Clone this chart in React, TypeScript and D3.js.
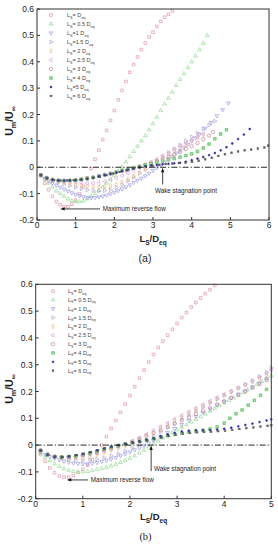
import React from "react";
import * as d3 from "d3";

type Pt = [number, number];

// ---- panel (a) data: Um/Uinf vs Ls/Deq ----
const aDeq: Pt[] = [[0.1,-0.03],[0.2,-0.06],[0.3,-0.085],[0.4,-0.11],[0.5,-0.13],[0.6,-0.142],[0.7,-0.149],[0.8,-0.15],[0.9,-0.14],[1.0,-0.125],[1.1,-0.1],[1.2,-0.073],[1.3,-0.04],[1.4,-0.005],[1.5,0.03],[1.6,0.065],[1.7,0.105],[1.8,0.14],[1.9,0.178],[2.0,0.215],[2.1,0.256],[2.2,0.291],[2.3,0.325],[2.4,0.36],[2.5,0.389],[2.6,0.418],[2.7,0.446],[2.8,0.471],[2.9,0.494],[3.0,0.512],[3.1,0.534],[3.2,0.553],[3.3,0.569],[3.4,0.58],[3.5,0.593]];
const a05: Pt[] = [[0.1,-0.03],[0.2,-0.045],[0.3,-0.06],[0.4,-0.075],[0.5,-0.09],[0.6,-0.1],[0.7,-0.11],[0.8,-0.12],[0.9,-0.127],[1.0,-0.13],[1.1,-0.13],[1.2,-0.128],[1.3,-0.12],[1.4,-0.11],[1.5,-0.1],[1.6,-0.088],[1.7,-0.075],[1.8,-0.06],[1.9,-0.045],[2.0,-0.03],[2.1,-0.015],[2.2,0.0],[2.3,0.02],[2.4,0.04],[2.5,0.06],[2.6,0.08],[2.7,0.1],[2.8,0.12],[2.9,0.142],[3.0,0.165],[3.1,0.19],[3.2,0.215],[3.3,0.24],[3.4,0.262],[3.5,0.285],[3.6,0.31],[3.7,0.333],[3.8,0.355],[3.9,0.378],[4.0,0.4],[4.1,0.422],[4.2,0.445],[4.3,0.47],[4.4,0.499]];
const a1: Pt[] = [[0.1,-0.03],[0.2,-0.042],[0.3,-0.052],[0.4,-0.06],[0.5,-0.068],[0.6,-0.076],[0.7,-0.083],[0.8,-0.09],[0.9,-0.097],[1.0,-0.103],[1.1,-0.108],[1.2,-0.112],[1.3,-0.115],[1.4,-0.116],[1.5,-0.115],[1.6,-0.113],[1.7,-0.11],[1.8,-0.106],[1.9,-0.101],[2.0,-0.095],[2.1,-0.089],[2.2,-0.082],[2.3,-0.075],[2.4,-0.067],[2.5,-0.058],[2.6,-0.05],[2.7,-0.042],[2.8,-0.033],[2.9,-0.023],[3.0,-0.012],[3.1,-0.002],[3.2,0.009],[3.3,0.02],[3.4,0.031],[3.5,0.042],[3.6,0.053],[3.7,0.064],[3.8,0.075],[3.9,0.087],[4.0,0.099],[4.1,0.111],[4.2,0.125],[4.35,0.148],[4.5,0.17],[4.65,0.195],[4.8,0.218],[4.95,0.243]];
const a15: Pt[] = [[0.1,-0.03],[0.25,-0.043],[0.4,-0.052],[0.55,-0.058],[0.7,-0.064],[0.85,-0.07],[1.0,-0.076],[1.15,-0.081],[1.3,-0.086],[1.45,-0.089],[1.6,-0.09],[1.75,-0.089],[1.9,-0.085],[2.05,-0.077],[2.2,-0.066],[2.35,-0.052],[2.5,-0.038],[2.65,-0.023],[2.8,-0.008],[2.95,0.008],[3.1,0.024],[3.25,0.04],[3.4,0.055],[3.55,0.07],[3.7,0.085],[3.85,0.1],[4.0,0.115],[4.15,0.13],[4.3,0.145],[4.45,0.16],[4.6,0.175]];
const a2: Pt[] = [[0.1,-0.03],[0.25,-0.042],[0.4,-0.049],[0.55,-0.053],[0.7,-0.057],[0.85,-0.061],[1.0,-0.065],[1.15,-0.069],[1.3,-0.072],[1.45,-0.074],[1.6,-0.075],[1.75,-0.074],[1.9,-0.071],[2.05,-0.065],[2.2,-0.056],[2.35,-0.045],[2.5,-0.033],[2.65,-0.02],[2.8,-0.007],[2.95,0.007],[3.1,0.021],[3.25,0.035],[3.4,0.048],[3.55,0.061],[3.7,0.074],[3.85,0.087],[4.0,0.1],[4.15,0.112],[4.3,0.124]];
const a25: Pt[] = [[0.1,-0.03],[0.25,-0.042],[0.4,-0.048],[0.55,-0.051],[0.7,-0.053],[0.85,-0.055],[1.0,-0.057],[1.15,-0.059],[1.3,-0.06],[1.45,-0.06],[1.6,-0.058],[1.75,-0.054],[1.9,-0.048],[2.05,-0.041],[2.2,-0.032],[2.35,-0.022],[2.5,-0.012],[2.65,-0.002],[2.8,0.009],[2.95,0.02],[3.1,0.032],[3.25,0.044],[3.4,0.056],[3.55,0.068],[3.7,0.08],[3.85,0.092],[4.0,0.104],[4.15,0.116],[4.3,0.128]];
const a3: Pt[] = [[0.1,-0.03],[0.25,-0.04],[0.4,-0.047],[0.55,-0.05],[0.7,-0.05],[0.85,-0.05],[1.0,-0.048],[1.15,-0.045],[1.3,-0.042],[1.45,-0.038],[1.6,-0.033],[1.75,-0.028],[1.9,-0.024],[2.05,-0.019],[2.2,-0.014],[2.35,-0.008],[2.5,-0.002],[2.65,0.004],[2.8,0.01],[2.95,0.017],[3.1,0.024],[3.25,0.031],[3.4,0.039],[3.55,0.048],[3.7,0.058],[3.85,0.069],[4.0,0.08],[4.15,0.092],[4.3,0.106],[4.45,0.12],[4.55,0.134]];
const a4: Pt[] = [[0.1,-0.03],[0.25,-0.04],[0.4,-0.047],[0.55,-0.05],[0.7,-0.051],[0.85,-0.05],[1.0,-0.049],[1.15,-0.046],[1.3,-0.043],[1.45,-0.039],[1.6,-0.034],[1.75,-0.029],[1.9,-0.024],[2.05,-0.019],[2.2,-0.013],[2.35,-0.008],[2.5,-0.003],[2.65,0.003],[2.8,0.008],[2.95,0.013],[3.1,0.018],[3.25,0.023],[3.4,0.028],[3.55,0.033],[3.7,0.038],[3.85,0.044],[4.0,0.051],[4.15,0.06],[4.3,0.073],[4.45,0.088],[4.6,0.108],[4.75,0.126],[4.9,0.142]];
const a5: Pt[] = [[0.1,-0.03],[0.25,-0.041],[0.4,-0.047],[0.55,-0.05],[0.7,-0.051],[0.85,-0.05],[1.0,-0.049],[1.15,-0.047],[1.3,-0.044],[1.45,-0.04],[1.6,-0.035],[1.75,-0.03],[1.9,-0.025],[2.05,-0.02],[2.2,-0.014],[2.35,-0.009],[2.5,-0.004],[2.65,0.0],[2.8,0.004],[2.95,0.007],[3.1,0.009],[3.25,0.011],[3.4,0.013],[3.55,0.015],[3.7,0.017],[3.85,0.021],[4.0,0.027],[4.15,0.033],[4.3,0.039],[4.45,0.046],[4.6,0.054],[4.75,0.064],[4.9,0.076],[5.05,0.09],[5.2,0.107],[5.35,0.124],[5.5,0.145]];
const a6: Pt[] = [[0.1,-0.03],[0.27,-0.042],[0.44,-0.048],[0.61,-0.05],[0.78,-0.05],[0.95,-0.049],[1.12,-0.047],[1.29,-0.044],[1.46,-0.04],[1.63,-0.035],[1.8,-0.03],[1.97,-0.024],[2.14,-0.018],[2.31,-0.012],[2.48,-0.006],[2.65,-0.001],[2.82,0.003],[2.99,0.006],[3.16,0.009],[3.33,0.012],[3.5,0.014],[3.67,0.016],[3.84,0.018],[4.01,0.021],[4.18,0.025],[4.35,0.03],[4.52,0.036],[4.69,0.043],[4.86,0.049],[5.03,0.055],[5.2,0.06],[5.37,0.064],[5.54,0.067],[5.71,0.071],[5.88,0.075],[5.98,0.082]];

// ---- panel (b) data ----
const bDeq: Pt[] = [[0.1,-0.035],[0.2,-0.06],[0.3,-0.085],[0.4,-0.103],[0.5,-0.115],[0.6,-0.12],[0.7,-0.12],[0.8,-0.113],[0.9,-0.102],[1.0,-0.09],[1.1,-0.075],[1.2,-0.055],[1.3,-0.03],[1.4,0.0],[1.5,0.032],[1.6,0.062],[1.7,0.092],[1.8,0.122],[1.9,0.153],[2.0,0.185],[2.1,0.218],[2.2,0.25],[2.3,0.28],[2.4,0.31],[2.5,0.338],[2.6,0.364],[2.7,0.388],[2.8,0.41],[2.9,0.432],[3.0,0.454],[3.1,0.476],[3.2,0.495],[3.3,0.515],[3.4,0.532],[3.5,0.549],[3.6,0.565],[3.7,0.58],[3.8,0.596]];
const b05: Pt[] = [[0.1,-0.03],[0.2,-0.045],[0.3,-0.058],[0.4,-0.07],[0.5,-0.08],[0.6,-0.088],[0.7,-0.094],[0.8,-0.098],[0.9,-0.1],[1.0,-0.1],[1.1,-0.098],[1.2,-0.095],[1.3,-0.091],[1.4,-0.087],[1.5,-0.083],[1.6,-0.078],[1.7,-0.072],[1.8,-0.065],[1.9,-0.057],[2.0,-0.049],[2.1,-0.04],[2.2,-0.03],[2.3,-0.019],[2.4,-0.007],[2.5,0.005],[2.6,0.016],[2.7,0.027],[2.8,0.037],[2.9,0.047],[3.0,0.057],[3.1,0.067],[3.2,0.076],[3.3,0.086],[3.4,0.096],[3.5,0.106],[3.6,0.116],[3.7,0.127],[3.8,0.137],[3.9,0.147],[4.0,0.157],[4.1,0.167],[4.2,0.176],[4.3,0.186],[4.4,0.196],[4.5,0.206],[4.6,0.216],[4.7,0.227],[4.8,0.237],[4.9,0.248],[5.0,0.258]];
const b1: Pt[] = [[0.1,-0.025],[0.2,-0.035],[0.3,-0.043],[0.4,-0.05],[0.5,-0.055],[0.6,-0.06],[0.7,-0.064],[0.8,-0.067],[0.9,-0.069],[1.0,-0.07],[1.1,-0.07],[1.2,-0.068],[1.3,-0.065],[1.4,-0.061],[1.5,-0.057],[1.6,-0.052],[1.7,-0.046],[1.8,-0.04],[1.9,-0.033],[2.0,-0.026],[2.1,-0.018],[2.2,-0.01],[2.3,-0.002],[2.4,0.007],[2.5,0.017],[2.65,0.032],[2.8,0.047],[2.95,0.062],[3.1,0.077],[3.25,0.092],[3.4,0.107],[3.55,0.121],[3.7,0.135],[3.85,0.149],[4.0,0.163],[4.15,0.177],[4.3,0.19],[4.45,0.203],[4.6,0.217],[4.75,0.232],[4.9,0.248]];
const b15: Pt[] = [[0.1,-0.025],[0.25,-0.038],[0.4,-0.046],[0.55,-0.05],[0.7,-0.053],[0.85,-0.055],[1.0,-0.056],[1.15,-0.055],[1.3,-0.052],[1.45,-0.047],[1.6,-0.04],[1.75,-0.032],[1.9,-0.022],[2.05,-0.011],[2.2,0.002],[2.35,0.017],[2.5,0.033],[2.65,0.049],[2.8,0.065],[2.95,0.081],[3.1,0.097],[3.25,0.112],[3.4,0.127],[3.55,0.142],[3.7,0.157],[3.85,0.171],[4.0,0.185],[4.15,0.199],[4.3,0.213],[4.45,0.227],[4.6,0.241],[4.75,0.256],[4.9,0.272],[5.0,0.288]];
const b2: Pt[] = [[0.1,-0.022],[0.25,-0.036],[0.4,-0.044],[0.55,-0.047],[0.7,-0.048],[0.85,-0.047],[1.0,-0.045],[1.15,-0.041],[1.3,-0.035],[1.45,-0.028],[1.6,-0.02],[1.75,-0.011],[1.9,-0.002],[2.05,0.009],[2.2,0.022],[2.35,0.036],[2.5,0.05],[2.65,0.064],[2.8,0.078],[2.95,0.092],[3.1,0.106],[3.25,0.12],[3.4,0.134],[3.55,0.148],[3.7,0.161],[3.85,0.174],[4.0,0.187],[4.15,0.2],[4.3,0.212],[4.45,0.224],[4.6,0.236],[4.75,0.249],[4.9,0.262]];
const b25: Pt[] = [[0.1,-0.02],[0.25,-0.034],[0.4,-0.042],[0.55,-0.045],[0.7,-0.045],[0.85,-0.043],[1.0,-0.04],[1.15,-0.035],[1.3,-0.029],[1.45,-0.022],[1.6,-0.014],[1.75,-0.005],[1.9,0.005],[2.05,0.016],[2.2,0.028],[2.35,0.041],[2.5,0.055],[2.65,0.069],[2.8,0.083],[2.95,0.097],[3.1,0.111],[3.25,0.125],[3.4,0.139],[3.55,0.152],[3.7,0.165],[3.85,0.178],[4.0,0.19],[4.15,0.202],[4.3,0.214],[4.45,0.226],[4.6,0.239],[4.75,0.253],[4.9,0.268],[5.0,0.28]];
const b3: Pt[] = [[0.1,-0.02],[0.25,-0.035],[0.4,-0.043],[0.55,-0.045],[0.7,-0.044],[0.85,-0.041],[1.0,-0.037],[1.15,-0.032],[1.3,-0.026],[1.45,-0.019],[1.6,-0.012],[1.75,-0.004],[1.9,0.004],[2.05,0.013],[2.2,0.023],[2.35,0.034],[2.5,0.045],[2.65,0.056],[2.8,0.068],[2.95,0.08],[3.1,0.092],[3.25,0.104],[3.4,0.116],[3.55,0.128],[3.7,0.14],[3.85,0.152],[4.0,0.164],[4.15,0.176],[4.3,0.188],[4.45,0.2],[4.6,0.213],[4.75,0.227],[4.9,0.242]];
const b4: Pt[] = [[0.1,-0.02],[0.25,-0.036],[0.4,-0.044],[0.55,-0.045],[0.7,-0.043],[0.85,-0.04],[1.0,-0.035],[1.15,-0.029],[1.3,-0.022],[1.45,-0.015],[1.6,-0.008],[1.75,-0.002],[1.9,0.004],[2.05,0.009],[2.2,0.014],[2.35,0.019],[2.5,0.024],[2.65,0.03],[2.8,0.035],[2.95,0.04],[3.1,0.044],[3.25,0.048],[3.4,0.051],[3.55,0.055],[3.7,0.06],[3.85,0.068],[4.0,0.082],[4.12,0.1],[4.25,0.117],[4.38,0.131],[4.51,0.149],[4.64,0.167],[4.77,0.186],[4.9,0.208]];
const b5: Pt[] = [[0.1,-0.02],[0.25,-0.036],[0.4,-0.044],[0.55,-0.045],[0.7,-0.042],[0.85,-0.038],[1.0,-0.033],[1.15,-0.027],[1.3,-0.02],[1.45,-0.013],[1.6,-0.006],[1.75,0.0],[1.9,0.005],[2.05,0.01],[2.2,0.015],[2.35,0.02],[2.5,0.026],[2.65,0.033],[2.8,0.04],[2.95,0.046],[3.1,0.051],[3.25,0.054],[3.4,0.056],[3.55,0.056],[3.7,0.056],[3.85,0.058],[4.0,0.061],[4.15,0.065],[4.3,0.07],[4.45,0.075],[4.6,0.08],[4.75,0.086],[4.9,0.092],[5.0,0.096]];
const b6: Pt[] = [[0.12,-0.02],[0.27,-0.036],[0.42,-0.043],[0.57,-0.044],[0.72,-0.042],[0.87,-0.037],[1.02,-0.032],[1.17,-0.026],[1.32,-0.019],[1.47,-0.012],[1.62,-0.006],[1.77,0.0],[1.92,0.004],[2.07,0.008],[2.22,0.012],[2.37,0.017],[2.52,0.022],[2.67,0.028],[2.82,0.034],[2.97,0.039],[3.12,0.043],[3.27,0.046],[3.42,0.048],[3.57,0.049],[3.72,0.05],[3.87,0.052],[4.02,0.054],[4.17,0.057],[4.32,0.06],[4.47,0.063],[4.62,0.066],[4.77,0.069],[4.92,0.072],[5.0,0.074]];

const yTicks = [-0.2, -0.1, 0, 0.1, 0.2, 0.3, 0.4, 0.5, 0.6];
const yTickLabels = ["-0.2", "-0.1", "0", "0.1", "0.2", "0.3", "0.4", "0.5", "0.6"];
const xTicksA = [0, 1, 2, 3, 4, 5, 6];
const xTicksB = [0, 1, 2, 3, 4, 5];

// middle part of each legend entry: "L_S" + mid + "eq"
const legendA = ["= D", "= 0.5 D", "=1 D", "=1.5 D", "= 2 D", "= 2.5 D", "= 3 D", "= 4 D", "=5 D", "= 6 D"];
const legendB = ["= D", "= 0.5 D", "= 1 D", "= 1.5 D", "= 2 D", "= 2.5 D", "= 3 D", "= 4 D", "= 5 D", "= 6 D"];

// marker styles, same order as the series
const STYLES = [
  { sym: d3.symbolSquare, rot: 0, stroke: "#df95a3", fill: "none", size: 7 },
  { sym: d3.symbolTriangle, rot: 0, stroke: "#92d892", fill: "none", size: 6 },
  { sym: d3.symbolTriangle, rot: 180, stroke: "#9898e4", fill: "none", size: 6 },
  { sym: d3.symbolTriangle, rot: 90, stroke: "#aca6cc", fill: "none", size: 6 },
  { sym: d3.symbolDiamond, rot: 0, stroke: "#f2b87c", fill: "none", size: 6 },
  { sym: d3.symbolTriangle, rot: -90, stroke: "#dcaae4", fill: "none", size: 6 },
  { sym: d3.symbolCircle, rot: 0, stroke: "#c98595", fill: "none", size: 9 },
  { sym: d3.symbolSquare, rot: 0, stroke: "#5cb85c", fill: "#a6e2a6", size: 7 },
  { sym: d3.symbolCircle, rot: 0, stroke: "#2a2aa0", fill: "#2a2aa0", size: 2.5 },
  { sym: d3.symbolCross, rot: 45, stroke: "#555", fill: "#555", size: 2.5 },
];

const SANS = "'Liberation Sans', Arial, sans-serif";

function Rich({ parts, fs, ...rest }: any) {
  let shift = 0;
  const spans = parts.map((p: [string, boolean?], i: number) => {
    const target = p[1] ? fs * 0.28 : 0;
    const el = (
      <tspan key={i} dy={target - shift} fontSize={p[1] ? fs * 0.68 : fs}>
        {p[0]}
      </tspan>
    );
    shift = target;
    return el;
  });
  return (
    <text fontSize={fs} fontFamily={SANS} {...rest}>
      {spans}
    </text>
  );
}

function Panel(props: any) {
  const { series, xMax, xTicks, left, right, top, bottom, legend, legX, legTextX, legY, legStep, wake, rev, ylabY, xlabY, cap, capY, capFont } = props;
  const x = d3.scaleLinear().domain([0, xMax]).range([left, right]);
  const y = d3.scaleLinear().domain([-0.2, 0.6]).range([bottom, top]);
  const sym = (i: number) => d3.symbol().type(STYLES[i].sym).size(STYLES[i].size)() as string;
  const cx = (left + right) / 2;

  return (
    <g>
      {/* series */}
      {series.map((pts: Pt[], i: number) => (
        <g key={i}>
          {pts.map((d, j) => (
            <path
              key={j}
              d={sym(i)}
              transform={`translate(${x(d[0])},${y(d[1])}) rotate(${STYLES[i].rot})`}
              fill={STYLES[i].fill}
              stroke={STYLES[i].stroke}
              strokeWidth={0.7}
            />
          ))}
        </g>
      ))}

      {/* zero line */}
      <line x1={left} x2={right} y1={y(0)} y2={y(0)} stroke="#111" strokeWidth={0.9} strokeDasharray="6,2,1.2,2" />

      {/* frame + ticks */}
      <rect x={left} y={top} width={right - left} height={bottom - top} fill="none" stroke="#333" strokeWidth={1} />
      {yTicks.map((t, i) => (
        <g key={i}>
          <line x1={left} x2={left + 3} y1={y(t)} y2={y(t)} stroke="#333" />
          <text x={left - 3} y={y(t) + 3} textAnchor="end" fontSize={8.5} fontFamily={SANS} fill="#222">
            {yTickLabels[i]}
          </text>
        </g>
      ))}
      {xTicks.map((t: number) => (
        <g key={t}>
          <line x1={x(t)} x2={x(t)} y1={bottom} y2={bottom - 3} stroke="#333" />
          <text x={x(t)} y={bottom + 8} textAnchor="middle" fontSize={8.5} fontFamily={SANS} fill="#222">
            {t}
          </text>
        </g>
      ))}

      {/* legend */}
      {legend.map((lab: string, i: number) => (
        <g key={i}>
          <path
            d={sym(i)}
            transform={`translate(${legX},${legY + i * legStep}) rotate(${STYLES[i].rot})`}
            fill={STYLES[i].fill}
            stroke={STYLES[i].stroke}
            strokeWidth={0.7}
          />
          <Rich x={legTextX} y={legY + i * legStep + 2} fs={5.5} fill="#444" parts={[["L"], ["S", true], [lab], ["eq", true]]} />
        </g>
      ))}

      {/* annotations */}
      <line x1={x(wake.x)} x2={x(wake.x)} y1={y(wake.from)} y2={y(0) + 4} stroke="#111" strokeWidth={0.8} />
      <path d={`M${x(wake.x)},${y(0) + 0.5} l-1.6,4.5 h3.2 z`} fill="#111" />
      <text x={x(wake.tx)} y={y(wake.ty)} fontSize={6.3} fontFamily={SANS} fill="#222">
        Wake stagnation point
      </text>
      <line x1={x(rev.x0)} x2={x(rev.x1) + 4} y1={y(rev.y)} y2={y(rev.y)} stroke="#111" strokeWidth={0.8} />
      <path d={`M${x(rev.x1)},${y(rev.y)} l4.5,-1.6 v3.2 z`} fill="#111" />
      <text x={x(rev.tx)} y={y(rev.ty)} fontSize={6.3} fontFamily={SANS} fill="#222">
        Maximum reverse flow
      </text>

      {/* axis titles */}
      <Rich transform={`translate(13,${ylabY}) rotate(-90)`} textAnchor="middle" fs={10.5} fontWeight="bold" fill="#222" parts={[["U"], ["m", true], ["/U"], ["∞", true]]} />
      <Rich x={cx} y={xlabY} textAnchor="middle" fs={9.5} fontWeight="bold" fill="#222" parts={[["L"], ["S", true], ["/D"], ["eq", true]]} />
      <text x={cx - 8} y={capY} textAnchor="middle" fontSize={10.5} fontFamily={capFont} fill="#222">
        {cap}
      </text>
    </g>
  );
}

export default function App() {
  return (
    <svg width={278} height={550} style={{ position: "absolute", left: 0, top: 0, background: "#fff" }}>
      <Panel
        series={[aDeq, a05, a1, a15, a2, a25, a3, a4, a5, a6]}
        xMax={6}
        xTicks={xTicksA}
        left={37}
        right={269}
        top={9}
        bottom={220}
        legend={legendA}
        legX={51}
        legTextX={67}
        legY={15}
        legStep={9}
        wake={{ x: 3.25, from: -0.065, tx: 3.05, ty: -0.097 }}
        rev={{ x0: 1.63, x1: 0.6, y: -0.158, tx: 1.7, ty: -0.167 }}
        ylabY={121}
        xlabY={242}
        cap="(a)"
        capY={262}
        capFont={SANS}
      />
      <Panel
        series={[bDeq, b05, b1, b15, b2, b25, b3, b4, b5, b6]}
        xMax={5}
        xTicks={xTicksB}
        left={35.7}
        right={271.3}
        top={284.3}
        bottom={498.7}
        legend={legendB}
        legX={53}
        legTextX={68}
        legY={291}
        legStep={8.85}
        wake={{ x: 2.45, from: -0.097, tx: 2.51, ty: -0.097 }}
        rev={{ x0: 1.11, x1: 0.66, y: -0.13, tx: 1.17, ty: -0.138 }}
        ylabY={389}
        xlabY={520}
        cap="(b)"
        capY={540}
        capFont="'Liberation Serif', 'Times New Roman', serif"
      />
    </svg>
  );
}
